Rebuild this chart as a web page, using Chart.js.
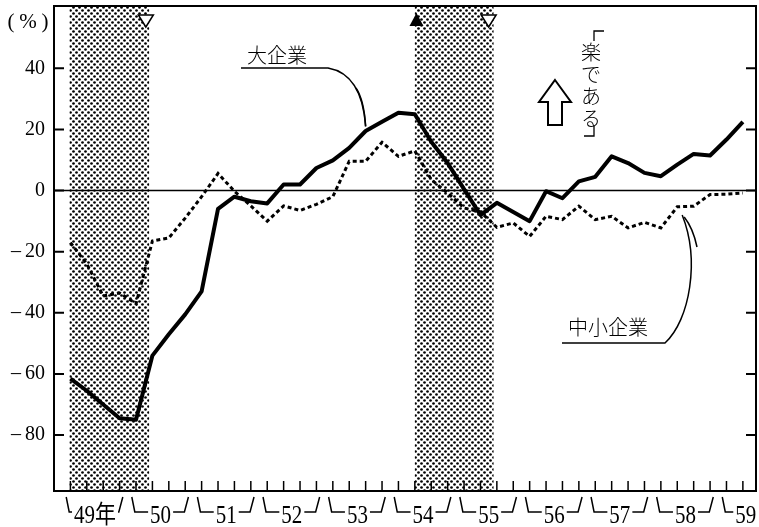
<!DOCTYPE html>
<html><head><meta charset="utf-8">
<script src="https://cdn.jsdelivr.net/npm/chart.js@4.4.0/dist/chart.umd.min.js"></script>
<style>html,body{margin:0;padding:0;background:#fff}#wrap{width:759px;height:527px;position:relative}</style>
</head><body><div id="wrap"><canvas id="c"></canvas></div>
<script>
// ---- data (quarterly, 昭和49年 I期 .. 59年 II期) ----
const yearLabels = ['49年','50','51','52','53','54','55','56','57','58','59'];
const largeFirms = [-61.5,-65.5,-70,-74.5,-75,-54,-47,-40.5,-33,-6,-2,-3.5,-4.2,2,2,7.4,9.9,14,19.5,22.5,25.5,25,16,9,0.5,-8,-4,-7,-10,-0.2,-2.5,3,4.5,11.2,9,5.8,4.7,8.5,12,11.5,16.7,22.5];
const smallFirms = [-17,-24,-34.5,-33.5,-37,-16.5,-15.5,-9,-2,5.6,-0.2,-5,-10,-5,-6.5,-4.5,-2,9.6,9.6,15.8,11.2,13,3.6,-0.8,-5.7,-7,-12,-10.6,-15,-8.4,-9.5,-5.1,-9.5,-8.4,-12.2,-10.4,-12.2,-5.3,-5.1,-1.3,-1.2,-0.8];
const yTicks = [40,20,0,-20,-40,-60,-80];
const recessionStart = [-0.05, 21.0];
const recessionEnd = [4.8, 25.8];
const turningPoints = [4.6, 21.1, 25.5];
const turningType = ['trough','peak','trough'];
const seriesNames = ['大企業','中小企業'];

const toPts = arr => arr.map((v,i)=>({x:i,y:v}));

// dot pattern for recession shading
const pc = document.createElement('canvas'); pc.width=6; pc.height=6;
const pctx = pc.getContext('2d');
pctx.fillStyle='#000';
[[1.5,1.5],[4.5,4.5]].forEach(([a,b])=>{pctx.beginPath();pctx.arc(a,b,1.35,0,Math.PI*2);pctx.fill();});

const SERIF = "'Liberation Serif','Noto Sans CJK JP',serif";
const CJK = "'Noto Sans CJK JP',sans-serif";

const decor = {
  id:'decor',
  beforeDatasetsDraw(chart){
    const {ctx, chartArea:a, scales:{x,y}} = chart;
    ctx.save();
    ctx.fillStyle = ctx.createPattern(pc,'repeat');
    recessionStart.forEach((s,k)=>{
      const x0=x.getPixelForValue(s), x1=x.getPixelForValue(recessionEnd[k]);
      ctx.fillRect(x0,a.top,x1-x0,a.bottom-a.top);
    });
    const y0=y.getPixelForValue(0);
    ctx.strokeStyle='#000'; ctx.lineWidth=1.5;
    ctx.beginPath(); ctx.moveTo(a.left,y0); ctx.lineTo(a.right,y0); ctx.stroke();
    ctx.restore();
  },
  afterDraw(chart){
    const {ctx, chartArea:a, scales:{x,y}} = chart;
    ctx.save();
    ctx.strokeStyle='#000'; ctx.fillStyle='#000';
    // frame
    ctx.lineWidth=2;
    ctx.strokeRect(a.left,a.top,a.right-a.left,a.bottom-a.top);
    // y ticks inward, both sides
    yTicks.forEach(v=>{
      const py=y.getPixelForValue(v);
      ctx.beginPath(); ctx.moveTo(a.left,py); ctx.lineTo(a.left+10,py);
      ctx.moveTo(a.right,py); ctx.lineTo(a.right-10,py); ctx.stroke();
    });
    // x quarter ticks inward
    ctx.lineWidth=1.5;
    largeFirms.forEach((_,i)=>{
      const px=x.getPixelForValue(i);
      ctx.beginPath(); ctx.moveTo(px,a.bottom); ctx.lineTo(px,a.bottom-10); ctx.stroke();
    });
    // year labels with brackets
    ctx.lineWidth=1.5;
    const lineY=a.bottom+21, topY=a.bottom+6;
    yearLabels.forEach((lab,k)=>{
      const s=x.getPixelForValue(4*k-0.5), e=x.getPixelForValue(4*k+3.5);
      ctx.font='21px '+SERIF;
      const w=ctx.measureText(lab).width;
      let cx=x.getPixelForValue(4*k+1.5);
      const last = e>chart.width;
      if(last) cx = s+17+w/2;
      const tl=cx-w/2, tr=cx+w/2;
      ctx.beginPath();
      ctx.moveTo(s+4,topY); ctx.lineTo(s+7,lineY);
      if(tl-2>s+7){ ctx.lineTo(tl-2,lineY); }
      ctx.stroke();
      if(!last){
        ctx.beginPath();
        ctx.moveTo(e-5,topY); ctx.lineTo(e-9,lineY);
        if(tr+2<e-9) ctx.lineTo(tr+2,lineY);
        ctx.stroke();
      }
      ctx.save();
      ctx.translate(cx,a.bottom+32);
      ctx.scale(1,1.18);
      ctx.textAlign='center'; ctx.textBaseline='alphabetic';
      ctx.fillText(lab,0,0);
      ctx.restore();
    });
    // turning point triangles
    ctx.lineWidth=1.5;
    turningPoints.forEach((t,k)=>{
      const px=x.getPixelForValue(t);
      ctx.beginPath();
      if(turningType[k]==='peak'){
        ctx.moveTo(px,a.top+7); ctx.lineTo(px+7,a.top+20); ctx.lineTo(px-7,a.top+20); ctx.closePath(); ctx.fill();
      } else {
        ctx.fillStyle='#fff';
        ctx.moveTo(px-7.5,a.top+9); ctx.lineTo(px+7.5,a.top+9); ctx.lineTo(px,a.top+21); ctx.closePath(); ctx.fill(); ctx.stroke();
        ctx.fillStyle='#000';
      }
    });
    // (%)
    ctx.font='21px '+SERIF; ctx.textAlign='center'; ctx.textBaseline='middle';
    ctx.fillText('(',11,22); ctx.fillText('%',28,22); ctx.fillText(')',45,22);
    // annotation: 大企業
    ctx.font='300 20px '+CJK; ctx.textBaseline='middle'; ctx.textAlign='center';
    ctx.fillText(seriesNames[0],277,55);
    ctx.lineWidth=1.5;
    const t1x=x.getPixelForValue(18), t1y=y.getPixelForValue(21);
    ctx.beginPath(); ctx.moveTo(241,68); ctx.lineTo(328,68);
    ctx.quadraticCurveTo(362,74,t1x,t1y); ctx.stroke();
    ctx.beginPath(); ctx.moveTo(356,88); ctx.quadraticCurveTo(364,100,t1x,t1y); ctx.stroke();
    // annotation: 中小企業
    ctx.fillText(seriesNames[1],608,327);
    const t2x=x.getPixelForValue(37.3), t2y=y.getPixelForValue(-8);
    ctx.beginPath(); ctx.moveTo(562,343); ctx.lineTo(665,343);
    ctx.bezierCurveTo(690,320,700,260,t2x,t2y); ctx.stroke();
    ctx.beginPath(); ctx.moveTo(697,247); ctx.quadraticCurveTo(693,228,t2x+2,t2y+2); ctx.stroke();
    // up arrow
    ctx.lineWidth=2; ctx.fillStyle='#fff';
    ctx.beginPath();
    ctx.moveTo(555,80); ctx.lineTo(571,102); ctx.lineTo(562,102); ctx.lineTo(562,125);
    ctx.lineTo(548,125); ctx.lineTo(548,102); ctx.lineTo(539,102); ctx.closePath();
    ctx.fill(); ctx.stroke();
    ctx.fillStyle='#000';
    // vertical 「楽である」
    ctx.font='300 20px '+CJK; ctx.textAlign='center'; ctx.textBaseline='middle';
    ['楽','で','あ','る'].forEach((ch,i)=>ctx.fillText(ch,591,52+22*i));
    ctx.lineWidth=1.3;
    ctx.beginPath(); ctx.moveTo(604,31); ctx.lineTo(594,31); ctx.lineTo(594,41); ctx.stroke();
    ctx.beginPath(); ctx.moveTo(594,126); ctx.lineTo(594,136); ctx.lineTo(584,136); ctx.stroke();
    ctx.restore();
  }
};

new Chart(document.getElementById('c'),{
  type:'line',
  data:{datasets:[
    {label:seriesNames[0],data:toPts(largeFirms),borderColor:'#000',borderWidth:4,pointRadius:0,tension:0,borderJoinStyle:'round',fill:false},
    {label:seriesNames[1],data:toPts(smallFirms),borderColor:'#000',borderWidth:3,borderDash:[4,3],pointRadius:0,tension:0,fill:false}
  ]},
  options:{
    responsive:true, maintainAspectRatio:false, animation:false, events:[],
    layout:{padding:{top:6,right:3,left:0,bottom:0}},
    plugins:{legend:{display:false},tooltip:{enabled:false},title:{display:false}},
    scales:{
      x:{type:'linear',min:-1,max:41.8,grid:{display:false,drawTicks:false},border:{display:false},
         ticks:{display:false},afterFit:s=>{s.height=36;s.paddingLeft=0;s.paddingRight=0;}},
      y:{min:-98.3,max:60.4,grid:{display:false,drawTicks:false},border:{display:false},
         afterBuildTicks:s=>{s.ticks=yTicks.map(v=>({value:v}));},
         ticks:{color:'#000',padding:9,font:{family:"'Liberation Serif',serif",size:20},
                callback:v=>v<0?'–\u2009'+Math.abs(v):String(v)},
         afterFit:s=>{s.width=54;s.paddingTop=0;s.paddingBottom=0;}}
    }
  },
  plugins:[decor]
});
</script></body></html>
